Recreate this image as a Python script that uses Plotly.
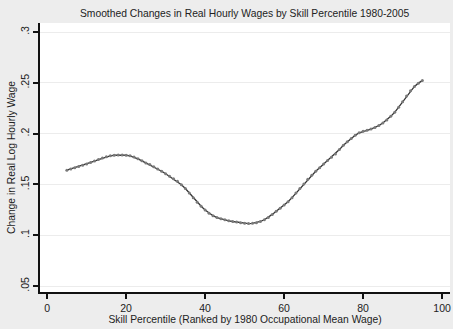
import plotly.graph_objects as go

percentile = list(range(5, 96))
wage_change = [
    0.1640, 0.1652, 0.1664, 0.1676, 0.1688, 0.1700, 0.1715, 0.1730, 0.1745, 0.1760,
    0.1772, 0.1782, 0.1787, 0.1789, 0.1789, 0.1787, 0.1782, 0.1770, 0.1752, 0.1732,
    0.1712, 0.1695, 0.1675, 0.1653, 0.1630, 0.1605, 0.1580, 0.1555, 0.1530, 0.1497,
    0.1460, 0.1415, 0.1370, 0.1325, 0.1285, 0.1248, 0.1217, 0.1192, 0.1174, 0.1161,
    0.1151, 0.1142, 0.1135, 0.1129, 0.1123, 0.1118, 0.1115, 0.1117, 0.1123, 0.1135,
    0.1152, 0.1175, 0.1205, 0.1235, 0.1265, 0.1297, 0.1330, 0.1370, 0.1415, 0.1460,
    0.1505, 0.1550, 0.1590, 0.1630, 0.1665, 0.1700, 0.1735, 0.1767, 0.1800, 0.1843,
    0.1885, 0.1920, 0.1953, 0.1983, 0.2008, 0.2023, 0.2033, 0.2045, 0.2060, 0.2080,
    0.2105, 0.2135, 0.2170, 0.2210, 0.2260, 0.2315, 0.2370, 0.2422, 0.2465, 0.2497,
    0.2522,
]
x_ticks = [0, 20, 40, 60, 80, 100]
y_ticks = [0.05, 0.1, 0.15, 0.2, 0.25, 0.3]
y_tick_labels = [".05", ".1", ".15", ".2", ".25", ".3"]

fig = go.Figure()
fig.add_trace(go.Scatter(
    x=percentile, y=wage_change, mode="lines+markers",
    line=dict(color="#333333", width=1.3),
    marker=dict(color="#7a7a7a", size=3, line=dict(width=0)),
    showlegend=False,
))

font = "Liberation Sans, Arial, sans-serif"
fig.update_layout(
    width=453, height=329,
    margin=dict(l=40, r=3, t=23, b=37),
    paper_bgcolor="#ededed", plot_bgcolor="#ffffff",
    font=dict(family=font, size=10.5, color="#222222"),
    title=dict(text="Smoothed Changes in Real Hourly Wages by Skill Percentile 1980-2005",
               x=0.54, xanchor="center", y=0.96, yanchor="middle",
               font=dict(size=10.3, color="#222222")),
)
fig.update_xaxes(
    range=[-1.8, 102], tickvals=x_ticks, ticktext=[str(v) for v in x_ticks],
    showline=True, linecolor="#111111", linewidth=2, mirror=False,
    ticks="outside", ticklen=5, tickcolor="#111111", tickwidth=1.5,
    showgrid=False, zeroline=False,
    title=dict(text="Skill Percentile (Ranked by 1980 Occupational Mean Wage)", standoff=2,
               font=dict(size=10.3)),
    tickfont=dict(size=10.5),
)
fig.update_yaxes(
    range=[0.0441, 0.3089], tickvals=y_ticks, ticktext=y_tick_labels, tickangle=-90,
    showline=True, linecolor="#111111", linewidth=2,
    ticks="outside", ticklen=5, tickcolor="#111111", tickwidth=1.5,
    showgrid=True, gridcolor="#ececec", gridwidth=1, zeroline=False,
    title=dict(text="Change in Real Log Hourly Wage", standoff=1, font=dict(size=10.3)),
    tickfont=dict(size=10.5),
)
fig.write_html("out.html")
